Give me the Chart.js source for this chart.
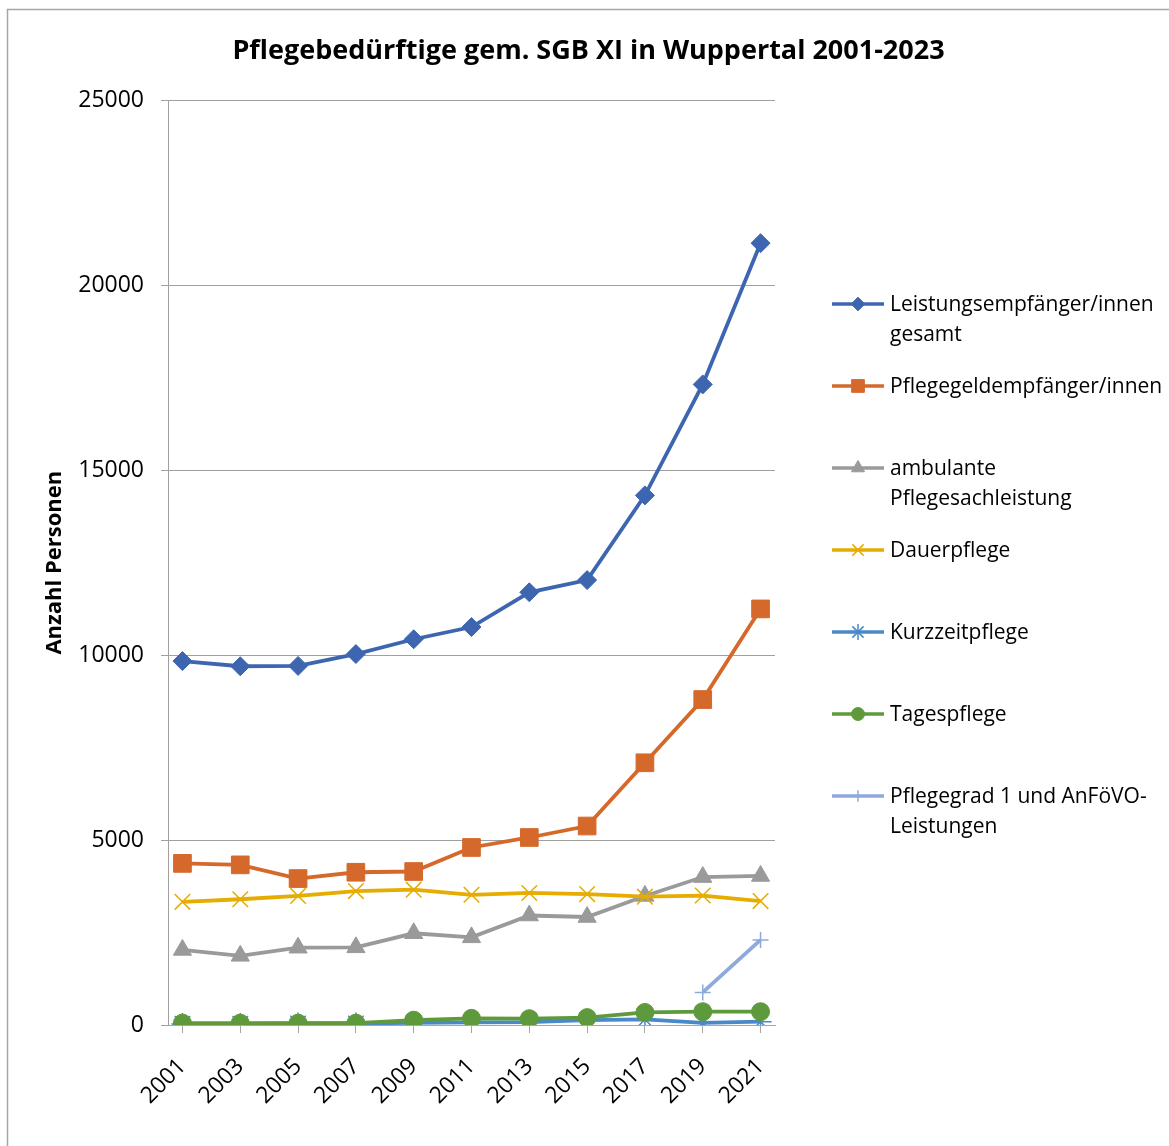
<!DOCTYPE html>
<html>
<head>
<meta charset="utf-8">
<script src="https://cdn.jsdelivr.net/npm/chart.js@4.4.1/dist/chart.umd.min.js"></script>
<style>
  html, body { margin: 0; padding: 0; background: #fff; }
  #wrap { position: relative; width: 1169px; height: 1146px; }
</style>
</head>
<body>
<div id="wrap"><canvas id="pflegeChart"></canvas></div>
<script>
const years = [2001, 2003, 2005, 2007, 2009, 2011, 2013, 2015, 2017, 2019, 2021];
const yTicks = [0, 5000, 10000, 15000, 20000, 25000];

const seriesNames = [
  ['Leistungsempfänger/innen', 'gesamt'],
  ['Pflegegeldempfänger/innen'],
  ['ambulante', 'Pflegesachleistung'],
  ['Dauerpflege'],
  ['Kurzzeitpflege'],
  ['Tagespflege'],
  ['Pflegegrad 1 und AnFöVO-', 'Leistungen'],
];
const leistungsempfaenger = [9840, 9700, 9710, 10030, 10430, 10760, 11700, 12030, 14320, 17320, 21140];
const pflegegeld = [4370, 4330, 3960, 4130, 4150, 4800, 5070, 5380, 7090, 8800, 11250];
const ambulant = [2030, 1870, 2090, 2100, 2480, 2370, 2960, 2920, 3490, 4000, 4030];
const dauerpflege = [3330, 3400, 3490, 3620, 3660, 3520, 3570, 3540, 3470, 3500, 3350];
const kurzzeitpflege = [30, 30, 40, 40, 60, 70, 80, 130, 150, 60, 90];
const tagespflege = [50, 50, 50, 50, 130, 180, 170, 200, 340, 360, 360];
const pflegegrad1 = [null, null, null, null, null, null, null, null, null, 880, 2300];

const FONT = "'Open Sans', 'DejaVu Sans', sans-serif";

const toPoints = (vals) => vals.map((v, i) => ({ x: years[i], y: v }));

const seriesStyles = [
  { data: leistungsempfaenger, color: '#3E65B0', pointStyle: 'rectRot', radius: 9.5, bw: 1 },
  { data: pflegegeld, color: '#D5692B', pointStyle: 'rect', radius: 12.5, bw: 1 },
  { data: ambulant, color: '#9A9A9A', pointStyle: 'triangle', radius: 10.5, bw: 1 },
  { data: dauerpflege, color: '#E6AC00', pointStyle: 'crossRot', radius: 11, bw: 1.5 },
  { data: kurzzeitpflege, color: '#4A89C8', pointStyle: 'star', radius: 11, bw: 1.5 },
  { data: tagespflege, color: '#5E9A3C', pointStyle: 'circle', radius: 9, bw: 1 },
  { data: pflegegrad1, color: '#8EA9DB', pointStyle: 'cross', radius: 8, bw: 1.5 },
];

const datasets = seriesStyles.map((s, i) => ({
  label: seriesNames[i].join(' '),
  data: toPoints(s.data),
  borderColor: s.color,
  backgroundColor: s.color,
  borderWidth: 3.8,
  pointStyle: s.pointStyle,
  pointRadius: s.radius,
  pointHoverRadius: s.radius,
  pointBorderWidth: s.bw,
  pointBackgroundColor: s.color,
  pointBorderColor: s.color,
  tension: 0,
  spanGaps: false,
  order: seriesStyles.length - i, // later series on top, like Excel
}));

// frame + legend drawn on the canvas
const frameAndLegend = {
  id: 'frameAndLegend',
  beforeDraw(chart) {
    const ctx = chart.ctx;
    ctx.save();
    ctx.strokeStyle = '#a6a6a6';
    ctx.lineWidth = 1.5;
    ctx.strokeRect(7.5, 9.5, 1300, 1300);
    ctx.restore();
  },
  afterDraw(chart) {
    const ctx = chart.ctx;
    ctx.save();
    chart.data.datasets.forEach((ds, i) => {
      const y = 304 + 82 * i;
      ctx.strokeStyle = ds.borderColor;
      ctx.lineWidth = 3.5;
      ctx.beginPath();
      ctx.moveTo(832, y);
      ctx.lineTo(884, y);
      ctx.stroke();
      ctx.fillStyle = ds.pointBackgroundColor;
      ctx.strokeStyle = ds.pointBorderColor;
      ctx.lineWidth = ds.pointBorderWidth;
      Chart.helpers.drawPoint(ctx, {
        pointStyle: ds.pointStyle,
        radius: ds.pointRadius * 0.72,
        rotation: 0,
        borderWidth: ds.pointBorderWidth,
      }, 858, y);
      ctx.fillStyle = '#000';
      ctx.font = `21px ${FONT}`;
      ctx.textAlign = 'left';
      ctx.textBaseline = 'middle';
      seriesNames[i].forEach((line, k) => ctx.fillText(line, 890, y + 1 + k * 30));
    });
    ctx.restore();
  },
};

const ctx = document.getElementById('pflegeChart').getContext('2d');
new Chart(ctx, {
  type: 'line',
  data: { datasets },
  plugins: [frameAndLegend],
  options: {
    responsive: true,
    maintainAspectRatio: false,
    animation: false,
    layout: { padding: { left: 8, right: 0, top: 0, bottom: 0 } },
    plugins: {
      legend: { display: false },
      tooltip: { enabled: false },
      title: {
        display: true,
        text: 'Pflegebedürftige gem. SGB XI in Wuppertal 2001-2023',
        color: '#000',
        font: { family: FONT, size: 27, weight: 'bold' },
        padding: { top: 35, bottom: 33 },
      },
    },
    scales: {
      x: {
        type: 'linear',
        min: 2000.5,
        max: 2021.5,
        afterBuildTicks: (scale) => { scale.ticks = years.map(v => ({ value: v })); },
        afterFit: (scale) => { scale.height = 121; },
        ticks: {
          autoSkip: false,
          minRotation: 45,
          maxRotation: 45,
          padding: 20,
          color: '#000',
          font: { family: FONT, size: 23 },
          callback: (v) => String(v),
        },
        grid: { drawOnChartArea: false, tickLength: 8, color: '#a6a6a6' },
        border: { color: '#a6a6a6' },
      },
      y: {
        min: 0,
        max: 25000,
        afterBuildTicks: (scale) => { scale.ticks = yTicks.map(v => ({ value: v })); },
        afterFit: (scale) => { scale.width = 160; },
        ticks: {
          padding: 17,
          color: '#000',
          font: { family: FONT, size: 23 },
          callback: (v) => String(v),
        },
        grid: { color: '#a0a0a0', tickLength: 7 },
        border: { color: '#a0a0a0' },
        title: {
          display: true,
          text: 'Anzahl Personen',
          color: '#000',
          font: { family: FONT, size: 22, weight: 'bold' },
          padding: { top: 34, bottom: 0 },
        },
      },
      legendSpace: {
        type: 'linear',
        position: 'right',
        display: true,
        afterFit: (scale) => { scale.width = 394; },
        ticks: { display: false },
        grid: { display: false },
        border: { display: false },
      },
    },
  },
});
</script>
</body>
</html>
